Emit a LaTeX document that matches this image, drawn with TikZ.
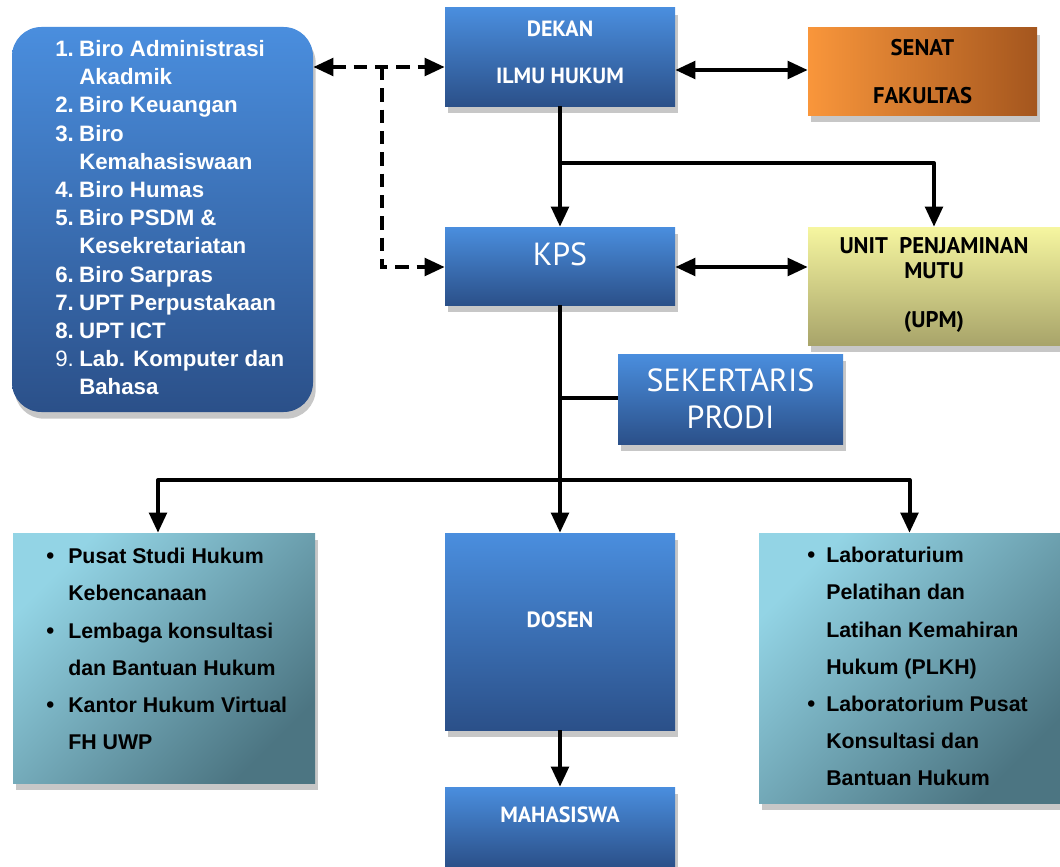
\documentclass[tikz,border=0pt]{standalone}
\usepackage{fontspec}
\setmainfont{Liberation Sans}
\newfontfamily\ptsans{PT Sans}
\usetikzlibrary{arrows.meta,shadows}
\definecolor{blueT}{HTML}{4A8EDE}
\definecolor{blueB}{HTML}{2B5089}
\definecolor{orangeL}{HTML}{F9963B}
\definecolor{orangeR}{HTML}{A4561E}
\definecolor{yelT}{HTML}{F6F6A0}
\definecolor{yelB}{HTML}{A8A46A}
\definecolor{tealL}{HTML}{93D4E5}
\definecolor{tealD}{HTML}{4C7582}
\tikzset{
  shad/.style={drop shadow={shadow xshift=2pt,shadow yshift=-5pt,opacity=0.22,fill=black}},
  bluebox/.style={shad,inner sep=0pt,top color=blueT,bottom color=blueB,draw=none},
  senatbox/.style={shad,inner sep=0pt,left color=orangeL,right color=orangeR,draw=none},
  upmbox/.style={shad,inner sep=0pt,top color=yelT,bottom color=yelB,draw=none},
  tealbox/.style={shad,inner sep=0pt,top color=tealL,bottom color=tealD,shading angle=45,draw=none},
  smalllbl/.style={inner sep=0pt,text=white,font=\ptsans\bfseries\fontsize{16.5}{35}\selectfont,align=center},
  darklbl/.style={inner sep=0pt,text=black,font=\ptsans\bfseries\fontsize{17}{36}\selectfont,align=center},
  biglbl/.style={inner sep=0pt,text=white,font=\ptsans\fontsize{24}{27.75}\selectfont,align=center},
  listtxt/.style={inner sep=0pt,align=left,font=\bfseries\fontsize{16}{27.9}\selectfont},
  tip/.style={Triangle[length=15pt,width=13pt]},
  conn/.style={line width=3pt,line join=round},
  arr/.style={conn,-{Triangle[length=15pt,width=13pt]}},
  darr/.style={conn,{Triangle[length=15pt,width=13pt]}-{Triangle[length=15pt,width=13pt]}},
  dsh/.style={line width=3pt,dash pattern=on 10pt off 6pt},
}
\newcommand\bul{\makebox[16.5pt][l]{\fontsize{17}{17}\selectfont\textbullet}}
\newcommand\bulr{\makebox[14.25pt][l]{\fontsize{17}{17}\selectfont\textbullet}}
\begin{document}
\begin{tikzpicture}[x=0.75pt,y=-0.75pt]
\useasboundingbox (0,0) rectangle (1060,867);
% boxes
\node[shad,inner sep=0pt,top color=blueT,bottom color=blueB,rounded corners=22pt,minimum width=225.75pt,minimum height=288.75pt] (units) at (162.5,219.5) {};
\node[bluebox,minimum width=172.5pt,minimum height=73.5pt] (dekan) at (560,57) {};
\node[senatbox,minimum width=171.75pt,minimum height=65.25pt,darklbl] (senat) at (922.5,71.5) {SENAT\\FAKULTAS};
\node[bluebox,minimum width=172.5pt,minimum height=58.5pt] (kps) at (560,266) {};
\node[upmbox,minimum width=189pt,minimum height=88.5pt] (upm) at (934,286) {};
\node[bluebox,minimum width=168.75pt,minimum height=67.5pt,biglbl] (sek) at (730.5,399) {SEKERTARIS\\PRODI};
\node[tealbox,minimum width=226.5pt,minimum height=187.5pt] (pusat) at (164,658) {};
\node[bluebox,minimum width=172.5pt,minimum height=147.75pt] (dosen) at (560,631.5) {};
\node[bluebox,minimum width=172.5pt,minimum height=60pt] (maha) at (560,827) {};
\node[tealbox,minimum width=225.75pt,minimum height=202.5pt] (lab) at (909.5,668) {};
% labels
\node[smalllbl] (dekanT) at (560,52.5) {DEKAN\\ILMU HUKUM};
\node[biglbl] (kpsT) at (560,254) {KPS};
\node[darklbl,font=\ptsans\bfseries\fontsize{17}{18.4}\selectfont] (upmT) at (934,285) {UNIT\ \ PENJAMINAN\\MUTU\\[18.4pt](UPM)};
\node[smalllbl] (dosenT) at (560,620) {DOSEN};
\node[smalllbl] (mahaT) at (560,815) {MAHASISWA};
\node[listtxt,text=white,font=\bfseries\fontsize{16.7}{21.15}\selectfont,anchor=north west] (unitsT) at (55,40) {%
\makebox[18pt][l]{1.}Biro Administrasi\\
\hspace*{18pt}Akadmik\\
\makebox[18pt][l]{2.}Biro Keuangan\\
\makebox[18pt][l]{3.}Biro\\
\hspace*{18pt}Kemahasiswaan\\
\makebox[18pt][l]{4.}Biro Humas\\
\makebox[18pt][l]{5.}Biro PSDM \&\\
\hspace*{18pt}Kesekretariatan\\
\makebox[18pt][l]{6.}Biro Sarpras\\
\makebox[18pt][l]{7.}UPT Perpustakaan\\
\makebox[18pt][l]{8.}UPT ICT\\
\makebox[18pt][l]{\mdseries 9.}Lab. Komputer dan\\
\hspace*{18pt}Bahasa};
\node[listtxt,text=black,anchor=north west] (pusatT) at (46,548) {%
\bul Pusat Studi Hukum\\
\hspace*{16.5pt}Kebencanaan\\
\bul Lembaga konsultasi\\
\hspace*{16.5pt}dan Bantuan Hukum\\
\bul Kantor Hukum Virtual\\
\hspace*{16.5pt}FH UWP};
\node[listtxt,text=black,anchor=north west] (labT) at (807,547) {%
\bulr Laboraturium\\
\hspace*{14.25pt}Pelatihan dan\\
\hspace*{14.25pt}Latihan Kemahiran\\
\hspace*{14.25pt}Hukum (PLKH)\\
\bulr Laboratorium Pusat\\
\hspace*{14.25pt}Konsultasi dan\\
\hspace*{14.25pt}Bantuan Hukum};
% coordinates
\coordinate (d1) at (382,67);
\coordinate (b1) at (560,163);
\coordinate (s1) at (560,398);
\coordinate (bus) at (560,480);
% connectors
\draw[dsh,{Triangle[length=15pt,width=13pt]}-{Triangle[length=15pt,width=13pt]}] (units.east |- d1) -- (dekan.west |- d1);
\draw[dsh,-{Triangle[length=15pt,width=13pt]}] (d1) |- (kps.west |- 0,267);
\draw[darr] (dekan.east |- 0,70) -- (senat.west |- 0,70);
\draw[arr] (dekan.south) -- (kps.north);
\draw[arr] (b1) -| (upm.north);
\draw[darr] (kps.east |- 0,267) -- (upm.west |- 0,267);
\draw[arr] (kps.south) -- (dosen.north);
\draw[conn] (s1) -- (sek.west |- s1);
\draw[arr] (bus) -| ([xshift=-4.5pt]pusat.north);
\draw[arr] (bus) -| (lab.north);
\draw[arr] (dosen.south) -- (maha.north);
\end{tikzpicture}
\end{document}
